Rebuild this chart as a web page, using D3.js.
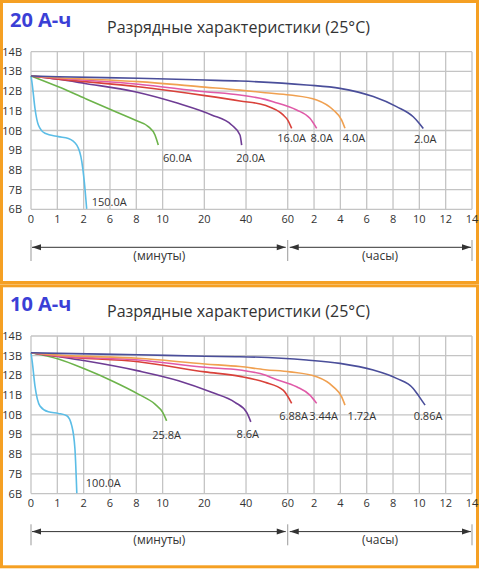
<!DOCTYPE html>
<html>
<head>
<meta charset="utf-8">
<script src="https://cdn.jsdelivr.net/npm/d3@7"></script>
<style>
  body { margin: 0; background: #fff; }
  svg { display: block; }
  text { font-family: "Open Sans", "Noto Sans", sans-serif; fill: #333; }
</style>
</head>
<body>
<svg id="chart" width="480" height="569"></svg>
<script>
// x axis: minutes on the left part, hours on the right part (all kept in minutes)
const tickMinutes = [0, 1, 2, 6, 8, 10, 20, 40, 60, 120, 240, 360, 480, 600, 720, 840];
const tickLabels = ["0", "1", "2", "6", "8", "10", "20", "40", "60", "2", "4", "6", "8", "10", "12", "14"];
const voltTicks = [6, 7, 8, 9, 10, 11, 12, 13, 14];

// 20 A-h  ([minutes, volts])
const c20_150 = [[0,12.77],[0.05,12.31],[0.15,11.13],[0.28,10.28],[0.53,9.86],[1.04,9.69],[1.42,9.6],[1.74,9.26],[1.93,8.42],[2.1,7.4],[2.46,6.02]];
const c20_60  = [[0,12.77],[1.04,12.22],[2.2,11.63],[6.13,11.04],[7.9,10.53],[8.91,10.2],[9.42,9.77],[9.67,9.26]];
const c20_20  = [[0,12.77],[1.04,12.6],[2.2,12.39],[7.9,11.97],[13.7,11.38],[23.5,10.79],[33.1,10.28],[37.1,9.77],[37.9,9.26]];
const c20_16  = [[0,12.77],[1.04,12.61],[8.15,12.22],[20.3,11.77],[37.1,11.5],[49.1,11.28],[57.8,10.79],[60,10.53],[69,10.11]];
const c20_8   = [[0,12.77],[1.04,12.65],[8.15,12.35],[20.3,11.97],[37.1,11.8],[49.1,11.58],[53,11.46],[80.3,11.04],[110.6,10.62],[132,10.11]];
const c20_4   = [[0,12.77],[1.04,12.68],[8.15,12.48],[20.3,12.2],[37.1,12.05],[49.1,11.92],[65,11.8],[132,11.55],[208,11.04],[246,10.53],[261,10.11]];
const c20_2   = [[0,12.77],[1.04,12.73],[8.15,12.65],[20.3,12.56],[37.1,12.51],[103,12.31],[238,12.14],[390,11.72],[496,11.21],[572,10.7],[600,10.36],[618,10.1]];

// 10 A-h
const c10_100  = [[0,13.15],[0.05,12.66],[0.15,11.47],[0.34,10.45],[0.66,10.15],[1.04,10.07],[1.36,9.95],[1.55,9.44],[1.67,8.25],[1.74,6.02]];
const c10_258  = [[0,13.15],[1.04,12.83],[2.2,12.32],[6.13,11.73],[8.15,11.05],[9.42,10.54],[10.02,10.12],[10.96,9.69]];
const c10_86   = [[0,13.15],[2.2,12.74],[8.15,12.23],[13.8,11.73],[23.5,11.14],[34.7,10.63],[40.3,10.12],[42.3,9.64]];
const c10_688  = [[0,13.15],[1.04,12.97],[8.15,12.69],[20.3,12.18],[37.1,11.95],[49.1,11.65],[57.8,11.25],[69,10.58]];
const c10_344  = [[0,13.15],[1.04,12.99],[8.15,12.78],[20.3,12.41],[37.1,12.27],[49.1,12.02],[53,11.85],[80.3,11.42],[110.6,11.0],[132,10.58]];
const c10_172  = [[0,13.15],[1.04,13.03],[8.15,12.87],[20.3,12.58],[37.1,12.45],[49.1,12.29],[65,12.18],[132,11.93],[208,11.42],[246,10.91],[261,10.49]];
const c10_086  = [[0,13.15],[1.04,13.12],[8.15,13.05],[20.3,12.97],[37.1,12.95],[103,12.78],[238,12.61],[390,12.27],[496,11.85],[572,11.34],[600,10.91],[626,10.49]];

const colors = ["#5bbde6", "#6cb34a", "#6e3c94", "#d9413a", "#e05aa8", "#f0a050", "#4a4e9a"];

// label offsets from each curve end (dx, dy, anchor)
const panels = [
  { title: "20 А-ч", top: 0, series: [
    { name: "150.0A", data: c20_150, dx: 5, dy: -3, anchor: "start" },
    { name: "60.0A",  data: c20_60,  dx: 19, dy: 17, anchor: "middle" },
    { name: "20.0A",  data: c20_20,  dx: 9, dy: 17, anchor: "middle" },
    { name: "16.0A",  data: c20_16,  dx: 0, dy: 14, anchor: "middle" },
    { name: "8.0A",   data: c20_8,   dx: 5, dy: 14, anchor: "middle" },
    { name: "4.0A",   data: c20_4,   dx: 9, dy: 14, anchor: "middle" },
    { name: "2.0A",   data: c20_2,   dx: 2, dy: 14, anchor: "middle" }
  ]},
  { title: "10 А-ч", top: 284.3, series: [
    { name: "100.0A", data: c10_100, dx: 9, dy: -6, anchor: "start" },
    { name: "25.8A",  data: c10_258, dx: 0, dy: 18, anchor: "middle" },
    { name: "8.6A",   data: c10_86,  dx: -3, dy: 16, anchor: "middle" },
    { name: "6.88A",  data: c10_688, dx: 2, dy: 17, anchor: "middle" },
    { name: "3.44A",  data: c10_344, dx: 7, dy: 17, anchor: "middle" },
    { name: "1.72A",  data: c10_172, dx: 17, dy: 15, anchor: "middle" },
    { name: "0.86A",  data: c10_086, dx: 3, dy: 15, anchor: "middle" }
  ]}
];

const svg = d3.select("#chart");

// piecewise x positions: 10-20-40-60 minute steps are wider
const left = 31, right = 472;
const wideSteps = [6, 7, 8];
const units = tickMinutes.slice(1).map((d, i) => wideSteps.includes(i + 1) ? 1.584 : 1);
const unitPx = (right - left) / d3.sum(units);
const xRange = [left];
units.forEach(u => xRange.push(xRange[xRange.length - 1] + u * unitPx));

const x = d3.scaleLinear().domain(tickMinutes).range(xRange);
const y = d3.scaleLinear().domain([6, 14]).range([209.3, 51.7]);

const line = d3.line()
  .x(d => x(d[0]))
  .y(d => y(d[1]))
  .curve(d3.curveMonotoneX);

panels.forEach(p => {
  const g = svg.append("g").attr("transform", `translate(0,${p.top})`);

  g.append("rect")
    .attr("x", 1.5).attr("y", 1.5)
    .attr("width", 476).attr("height", 281)
    .attr("fill", "#fff")
    .attr("stroke", "#f5a023").attr("stroke-width", 3);

  g.append("text")
    .attr("x", 10).attr("y", 27)
    .attr("font-size", 20).attr("font-weight", "bold")
    .style("fill", "#3b3fd6")
    .text(p.title);

  g.append("text")
    .attr("x", 107).attr("y", 33)
    .attr("font-size", 16)
    .text("Разрядные характеристики (25°C)");

  // grid
  g.append("g").selectAll("line.v")
    .data(tickMinutes)
    .join("line")
    .attr("x1", d => x(d)).attr("x2", d => x(d))
    .attr("y1", y(14)).attr("y2", y(6))
    .attr("stroke", "#c4c4c4").attr("stroke-width", 1.3);

  g.append("g").selectAll("line.h")
    .data(voltTicks)
    .join("line")
    .attr("x1", left).attr("x2", right)
    .attr("y1", d => y(d)).attr("y2", d => y(d))
    .attr("stroke", "#c4c4c4").attr("stroke-width", 1.3);

  // tick labels
  g.append("g").selectAll("text")
    .data(voltTicks)
    .join("text")
    .attr("x", 22).attr("y", d => y(d) + 4)
    .attr("text-anchor", "end")
    .attr("font-size", 11)
    .text(d => d + "В");

  g.append("g").selectAll("text")
    .data(tickMinutes)
    .join("text")
    .attr("x", d => x(d)).attr("y", 223)
    .attr("text-anchor", "middle")
    .attr("font-size", 11)
    .text((d, i) => tickLabels[i]);

  // curves
  p.series.forEach((s, i) => {
    g.append("path")
      .attr("d", line(s.data))
      .attr("fill", "none")
      .attr("stroke", colors[i])
      .attr("stroke-width", 1.6);

    const end = s.data[s.data.length - 1];
    g.append("text")
      .attr("x", x(end[0]) + s.dx)
      .attr("y", y(end[1]) + s.dy)
      .attr("text-anchor", s.anchor)
      .attr("font-size", 11)
      .text(s.name);
  });

  // range arrows: minutes | hours
  const ay = 247.3;
  const xm = x(60);
  [left, xm, right].forEach(px => {
    g.append("line")
      .attr("x1", px).attr("x2", px)
      .attr("y1", 240).attr("y2", 261)
      .attr("stroke", "#999").attr("stroke-width", 1);
  });
  g.append("line").attr("x1", left + 1).attr("x2", xm - 2)
    .attr("y1", ay).attr("y2", ay).attr("stroke", "#333").attr("stroke-width", 1);
  g.append("line").attr("x1", xm + 2).attr("x2", right - 1)
    .attr("y1", ay).attr("y2", ay).attr("stroke", "#333").attr("stroke-width", 1);

  const head = (tip, dir) => {
    g.append("path")
      .attr("d", `M${tip},${ay} L${tip + dir * 9},${ay - 3} L${tip + dir * 9},${ay + 3} Z`)
      .attr("fill", "#333");
  };
  head(left + 1, 1);
  head(xm - 2, -1);
  head(xm + 2, 1);
  head(right - 1, -1);

  g.append("text")
    .attr("x", (left + xm) / 2).attr("y", 260)
    .attr("text-anchor", "middle").attr("font-size", 12)
    .text("(минуты)");
  g.append("text")
    .attr("x", 380).attr("y", 260)
    .attr("text-anchor", "middle").attr("font-size", 12)
    .text("(часы)");
});
</script>
</body>
</html>
